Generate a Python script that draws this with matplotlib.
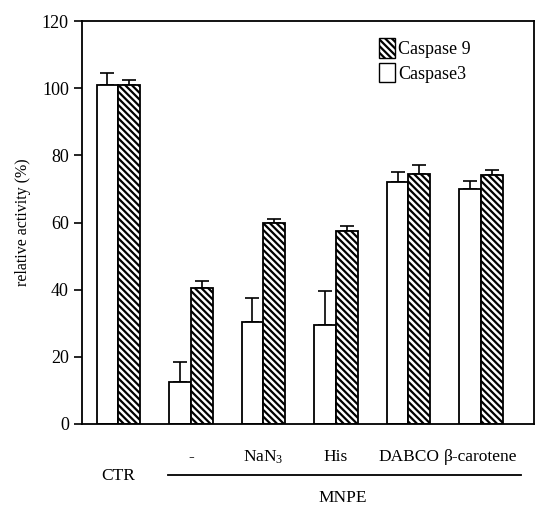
import numpy as np
import matplotlib.pyplot as plt
from matplotlib.patches import Patch

plt.rcParams['font.family'] = ['Liberation Serif', 'DejaVu Serif']
plt.rcParams['hatch.linewidth'] = 1.6
plt.rcParams['mathtext.fontset'] = 'custom'
plt.rcParams['mathtext.rm'] = 'Liberation Serif'

# datos
groups = ['CTR', '-', 'NaN$\\mathrm{_3}$', 'His', 'DABCO', 'β-carotene']
casp3 = [101, 12.5, 30.5, 29.5, 72, 70]
casp3_err = [3.5, 6, 7, 10, 3, 2.5]
casp9 = [101, 40.5, 60, 57.5, 74.5, 74]
casp9_err = [1.3, 2, 1, 1.5, 2.5, 1.5]

x = np.arange(len(groups))
w = 0.3

fig = plt.figure(figsize=(5.36, 5.11), dpi=100)
ax = fig.add_axes([82/536, 1-424/511, (534-82)/536, (424-21)/511])

ax.bar(x - w/2, casp3, w, color='white', edgecolor='black', linewidth=1.3, zorder=2)
ax.bar(x + w/2, casp9, w, color='white', edgecolor='black', linewidth=1.3,
       hatch='\\\\\\\\\\', zorder=2)
ax.errorbar(x - w/2, casp3, yerr=[np.zeros(len(x)), casp3_err], fmt='none',
            ecolor='black', elinewidth=1.2, capsize=5, capthick=1.2, zorder=1)
ax.errorbar(x + w/2, casp9, yerr=[np.zeros(len(x)), casp9_err], fmt='none',
            ecolor='black', elinewidth=1.2, capsize=5, capthick=1.2, zorder=1)

ax.set_xlim(-0.5, 5.73)
ax.set_ylim(0, 120)
ax.set_yticks(np.arange(0, 121, 20))
ax.tick_params(axis='y', direction='out', length=6, width=1.2, labelsize=13)
ax.set_xticks([])
for s in ax.spines.values():
    s.set_linewidth(1.3)
ax.set_ylabel('relative activity (%)', fontsize=11.5, labelpad=8)

# etiquetas de grupos
for xi, g in zip(x[1:], groups[1:]):
    ax.text(xi, -9.8, g, ha='center', va='center', fontsize=12.5)
ax.text(x[0], -15.5, groups[0], ha='center', va='center', fontsize=12.5)
ax.plot([0.69, 5.55], [-15.3, -15.3], color='black', lw=1.3, clip_on=False)
ax.text(3.1, -22, 'MNPE', ha='center', va='center', fontsize=12.5)

handles = [Patch(facecolor='white', edgecolor='black', hatch='\\\\\\\\\\', label='Caspase 9'),
           Patch(facecolor='white', edgecolor='black', label='Caspase3')]
ax.legend(handles=handles, loc='upper left', bbox_to_anchor=(0.64, 0.975), frameon=False,
          fontsize=13, handlelength=0.9, handleheight=1.3, handletextpad=0.2,
          labelspacing=0.25, borderaxespad=0)

fig.savefig('out.png', dpi=100)
